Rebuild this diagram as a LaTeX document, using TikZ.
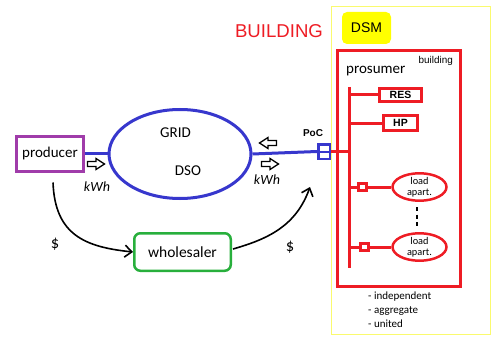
\documentclass[tikz,border=0pt]{standalone}
\usepackage{fontspec}
\setmainfont{Carlito}
\newfontfamily\arialfont{Liberation Sans}
\usetikzlibrary{arrows.meta,shapes.geometric}

\definecolor{gridblue}{RGB}{55,55,205}
\definecolor{bldred}{RGB}{238,28,36}
\definecolor{prodpurple}{RGB}{160,60,170}
\definecolor{wsgreen}{RGB}{40,175,60}
\definecolor{dsmyellow}{RGB}{255,255,0}
\definecolor{frameyellow}{RGB}{250,250,110}

\begin{document}
\begin{tikzpicture}[x=1pt,y=-1pt,
  txt/.style={inner sep=0pt,font=\fontsize{15}{17}\selectfont},
  kwh/.style={inner sep=0pt,font=\fontsize{14}{16}\selectfont\itshape},
  money/.style={inner sep=0pt,font=\fontsize{16.5}{18}\selectfont},
  redbox/.style={draw=bldred,line width=3pt,inner sep=0pt,
    font=\arialfont\bfseries\fontsize{10.5}{12}\selectfont},
  redline/.style={draw=bldred,line width=3pt},
  blueline/.style={draw=gridblue,line width=3pt},
  loadell/.style={ellipse,draw=bldred,line width=2.5pt,inner sep=0pt,
    minimum width=54pt,minimum height=23.5pt,align=center,
    font=\fontsize{10.3}{10.6}\selectfont},
  meter/.style={draw=bldred,fill=white,line width=3pt,inner sep=0pt,
    minimum width=8.5pt,minimum height=6.5pt},
  flow/.style={line width=1.6pt,-{Straight Barb[length=7pt,width=12pt]}},
  hollowarrow/.pic={\draw[line width=1.3pt,fill=white]
    (-8.5,-2.5) -- (0,-2.5) -- (0,-5.5) -- (8.5,0) -- (0,5.5) -- (0,2.5) -- (-8.5,2.5) -- cycle;}
]
\useasboundingbox (0,0) rectangle (493,337);

% building frame and title
\node[draw=frameyellow,line width=1.5pt,minimum width=159pt,minimum height=328pt,inner sep=0pt] (frame) at (411,170.5) {};
\node[inner sep=0pt,text=bldred,font=\arialfont\fontsize{18.6}{20}\selectfont] (bldlabel) at (279,31) {BUILDING};
\node[fill=dsmyellow,rounded corners=5pt,minimum width=49pt,minimum height=32pt,inner sep=0pt,
  font=\arialfont\fontsize{14}{16}\selectfont] (dsm) at (366.5,28) {DSM};

% prosumer building
\node[draw=bldred,line width=3pt,minimum width=123pt,minimum height=236pt,inner sep=0pt] (bld) at (399,168.5) {};
\node[inner sep=0pt,anchor=east,font=\arialfont\fontsize{9.9}{11}\selectfont] (bldsmall) at (453,61) {building};
\node[inner sep=0pt,anchor=west,font=\fontsize{15}{17}\selectfont] (prosumer) at (346,71) {prosumer};

% internal bus and its units
\coordinate (bustop) at (349,87);
\coordinate (busbot) at (349,268);
\draw[redline] (bustop) -- (busbot);
\node[redbox,minimum width=42pt,minimum height=13pt] (res) at (400.5,95) {RES};
\node[redbox,minimum width=34pt,minimum height=15pt] (hp) at (400.5,123) {HP};
\draw[redline] (res.west -| bustop) -- (res.west);
\draw[redline] (hp.west -| bustop) -- (hp.west);

\node[loadell] (load1) at (419.5,187) {load\\apart.};
\node[loadell] (load2) at (419.5,247) {load\\apart.};
\coordinate (tap1) at (349,187);
\coordinate (tap2) at (349,247);
\node[meter] (m1) at (362.5,187) {};
\node[meter] (m2) at (364.5,247) {};
\draw[redline] (tap1) -- (m1.west);
\draw[redline] (m1.east) -- (load1.west);
\draw[redline] (tap2) -- (m2.west);
\draw[redline] (m2.east) -- (load2.west);
\coordinate (dotsA) at (417,207);
\coordinate (dotsB) at (417,226);
\draw[line width=2.5pt,dash pattern=on 4pt off 3.5pt] (dotsA) -- (dotsB);

% aggregation modes
\node[inner sep=0pt,anchor=north west,align=left,font=\fontsize{11}{14}\selectfont] (modes) at (368,292)
  {- independent\\- aggregate\\- united};

% grid side
\node[ellipse,draw=gridblue,line width=3pt,minimum width=142pt,minimum height=89pt,inner sep=0pt] (grid) at (180,154) {};
\node[txt] (gridtxt) at (175.5,133) {GRID};
\node[txt] (dsotxt) at (188,171) {DSO};

\node[draw=prodpurple,line width=3pt,minimum width=67pt,minimum height=35pt,inner sep=0pt,
  font=\fontsize{15}{17}\selectfont] (producer) at (50,153.5) {producer};
\draw[blueline] (producer.east) -- (producer.east -| grid.west);

\node[draw=gridblue,line width=2.5pt,minimum width=11.5pt,minimum height=14.5pt,inner sep=0pt] (poc) at (324,151.5) {};
\node[inner sep=0pt,font=\arialfont\bfseries\fontsize{10}{12}\selectfont] (poctxt) at (313,133) {PoC};
\draw[blueline] (grid.east) -- (poc.west);
\draw[draw=gridblue,line width=2pt] (poc.west) -- (poc.east);
\draw[redline] (poc.east) -- (poc.east -| bustop);

% energy flows
\pic at (96,164) {hollowarrow};
\pic[rotate=180] at (268,143) {hollowarrow};
\pic at (270,164) {hollowarrow};
\node[kwh] (kwhL) at (97,187) {kWh};
\node[kwh] (kwhR) at (267,180) {kWh};

% money flows
\node[draw=wsgreen,line width=2.5pt,rounded corners=6pt,minimum width=96.5pt,minimum height=37.5pt,inner sep=0pt,
  font=\fontsize{15.5}{17}\selectfont] (wholesaler) at (182.5,252) {wholesaler};
\coordinate (payin) at (310,187);
\draw[flow] (producer.south) ++(3,10) .. controls (55,235) and (85,247) .. (wholesaler.west);
\draw[flow] (wholesaler.east) ++(1,-3) .. controls (268,239) and (296,226) .. (payin);
\node[money] (d1) at (55,244) {\$};
\node[money] (d2) at (290,247) {\$};
\end{tikzpicture}
\end{document}
